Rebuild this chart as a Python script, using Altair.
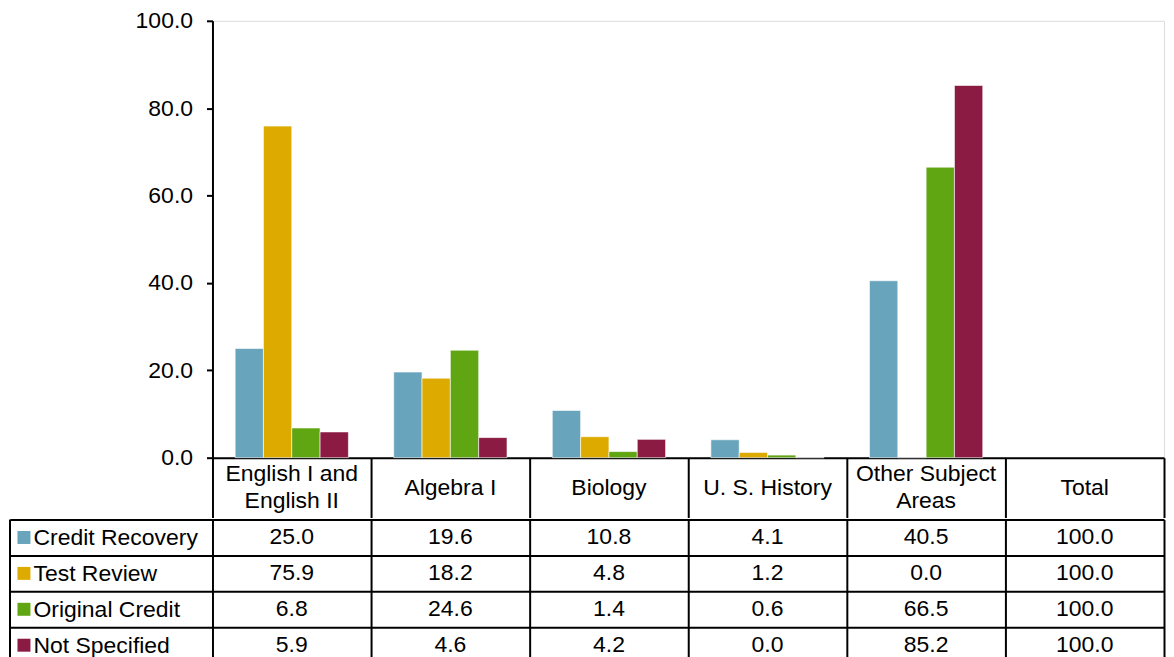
import altair as alt
import pandas as pd

FONT = "Liberation Sans"

subjects = ["English I and\nEnglish II", "Algebra I", "Biology", "U. S. History",
            "Other Subject\nAreas", "Total"]
series = ["Credit Recovery", "Test Review", "Original Credit", "Not Specified"]
colors = ["#68A4BB", "#DDAA00", "#60A512", "#8B1B42"]

credit_recovery = [25.0, 19.6, 10.8, 4.1, 40.5, 100.0]
test_review = [75.9, 18.2, 4.8, 1.2, 0.0, 100.0]
original_credit = [6.8, 24.6, 1.4, 0.6, 66.5, 100.0]
not_specified = [5.9, 4.6, 4.2, 0.0, 85.2, 100.0]

all_values = [credit_recovery, test_review, original_credit, not_specified]

rows = []
for s, vals in zip(series, all_values):
    for subj, v in zip(subjects, vals):
        rows.append({"subject": subj, "series": s, "value": v, "label": f"{v:.1f}"})
df = pd.DataFrame(rows)
bar_df = df[df["subject"] != "Total"]
head_df = pd.DataFrame({"subject": subjects,
                        "lines": [s.count("\n") + 1 for s in subjects]})

x_scale = alt.Scale(domain=subjects, paddingInner=0, paddingOuter=0)
row_scale = alt.Scale(domain=series, paddingInner=0, paddingOuter=0)
color_scale = alt.Scale(domain=series, range=colors)

LABEL_COL = 203
W = 954
H_PLOT = 438
HEADER_H = 60
ROW_H = 36
H_TABLE = ROW_H * len(series)
FS = 23

x_top = alt.X("subject:N", sort=subjects, scale=x_scale,
              axis=alt.Axis(title=None, orient="bottom", labels=False,
                            domain=True, domainColor="black", domainWidth=2,
                            ticks=True, tickBand="extent", tickSize=HEADER_H,
                            tickColor="black", tickWidth=2, grid=False))

bars = alt.Chart(bar_df).mark_bar(stroke="white", strokeWidth=1, strokeOpacity=0.6).encode(
    x=x_top,
    xOffset=alt.XOffset("series:N", sort=series,
                        scale=alt.Scale(domain=series, paddingInner=0, paddingOuter=0.8)),
    y=alt.Y("value:Q", scale=alt.Scale(domain=[0, 100], nice=False),
            axis=alt.Axis(title=None, values=[0, 20, 40, 60, 80, 100], format=".1f",
                          domain=True, domainColor="black", domainWidth=2,
                          tickSize=6, tickColor="black", tickWidth=2,
                          labelPadding=14, labelFont=FONT, labelFontSize=FS,
                          labelColor="black", grid=False)),
    color=alt.Color("series:N", sort=series, scale=color_scale, legend=None),
)

head_single = alt.Chart(head_df).transform_filter("datum.lines == 1").mark_text(
    font=FONT, fontSize=FS, color="black", baseline="middle"
).encode(x=x_top, y=alt.value(H_PLOT + HEADER_H / 2), text="subject:N")

head_multi = alt.Chart(head_df).transform_filter("datum.lines > 1").mark_text(
    font=FONT, fontSize=FS, color="black", baseline="middle", lineBreak="\n", lineHeight=27
).encode(x=x_top, y=alt.value(H_PLOT + HEADER_H / 2 - 14), text="subject:N")

top = alt.layer(bars, head_single, head_multi).properties(width=W, height=H_PLOT)

table_text = alt.Chart(df).mark_text(font=FONT, fontSize=FS, color="black").encode(
    x=alt.X("subject:N", sort=subjects, scale=x_scale,
            axis=alt.Axis(title=None, labels=False, ticks=False, domain=False,
                          grid=True, tickBand="extent", gridColor="black",
                          gridWidth=2, gridOpacity=1)),
    y=alt.Y("series:N", sort=series, scale=row_scale,
            axis=alt.Axis(title=None, domain=False, grid=True, tickBand="extent",
                          gridColor="black", gridWidth=2, gridOpacity=1,
                          ticks=True, tickSize=LABEL_COL, tickColor="black", tickWidth=2,
                          labelAlign="left", labelBaseline="middle", labelPadding=-23,
                          labelFont=FONT, labelFontSize=FS, labelColor="black",
                          labelLimit=0)),
    text=alt.Text("label:N"),
)

swatch_df = pd.DataFrame({"series": series})
swatches = alt.Chart(swatch_df).mark_square(size=169, opacity=1, filled=True).encode(
    x=alt.value(-189),
    y=alt.Y("series:N", sort=series, scale=row_scale),
    color=alt.Color("series:N", sort=series, scale=color_scale, legend=None),
)

left_border = alt.Chart(pd.DataFrame({"a": [0]})).mark_rule(color="black", strokeWidth=2).encode(
    x=alt.value(-LABEL_COL), y=alt.value(0), y2=alt.value(H_TABLE)
)

table = alt.layer(table_text, swatches, left_border).properties(width=W, height=H_TABLE)

chart = alt.vconcat(top, table, spacing=-16).properties(
    padding={"left": 0, "top": 0, "right": 0, "bottom": 0}
).configure_view(stroke=None).configure(background="white")

chart.save("out.html", embed_options={"renderer": "svg", "actions": False})
